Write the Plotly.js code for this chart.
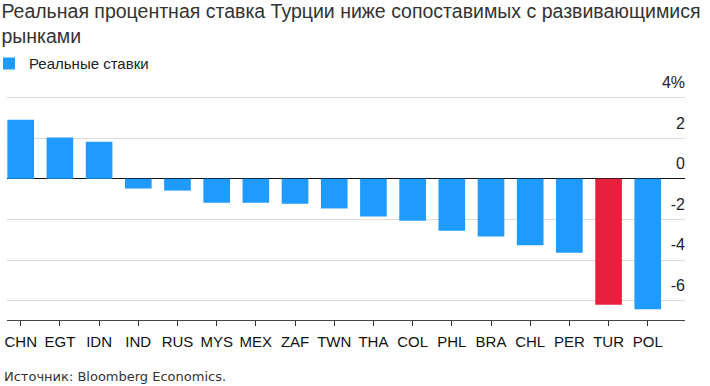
<!DOCTYPE html>
<html>
<head>
<meta charset="utf-8">
<script src="https://cdn.plot.ly/plotly-3.0.1.min.js"></script>
<style>
  html, body { margin: 0; padding: 0; background: #fff; }
  #chart { width: 710px; height: 386px; }
</style>
</head>
<body>
<div id="chart"></div>
<script>
const categories = ["CHN", "EGT", "IDN", "IND", "RUS", "MYS", "MEX", "ZAF", "TWN", "THA", "COL", "PHL", "BRA", "CHL", "PER", "TUR", "POL"];
const realRates = [2.9, 2.03, 1.82, -0.48, -0.58, -1.18, -1.18, -1.23, -1.46, -1.86, -2.07, -2.56, -2.84, -3.27, -3.64, -6.2, -6.42];
const highlight = "TUR";
const yTickVals = [-6, -4, -2, 0, 2, 4];
const yTickText = ["-6", "-4", "-2", "0", "2", "4%"];
const seriesName = "Реальные ставки";
const titleText = "Реальная процентная ставка Турции ниже сопоставимых с развивающимися<br>рынками";
const sourceText = "Источник: Bloomberg Economics.";

const BLUE = "#1f9bff";
const RED = "#e8203e";
const barColors = categories.map(c => c === highlight ? RED : BLUE);

const trace = {
  type: "bar",
  x: categories,
  y: realRates,
  name: seriesName,
  showlegend: true,
  marker: { color: barColors, line: { width: 0 } },
  hoverinfo: "x+y"
};

const layout = {
  width: 710,
  height: 386,
  paper_bgcolor: "#ffffff",
  plot_bgcolor: "#ffffff",
  font: { family: "Arial, 'Liberation Sans', sans-serif", color: "#222" },
  margin: { l: 7, r: 25, t: 65, b: 66, pad: 0, autoexpand: false },
  bargap: 0.32,
  title: {
    text: titleText,
    font: { size: 19.5, color: "#333", family: "Arial, 'Liberation Sans', sans-serif" },
    xref: "container", x: 0.002, xanchor: "left",
    yref: "container", y: 0.954, yanchor: "top",
    pad: { t: 0, l: 0 }
  },
  showlegend: true,
  legend: {
    orientation: "h",
    xref: "container", yref: "container",
    x: 0, xanchor: "left",
    y: 0.835, yanchor: "middle",
    indentation: -11,
    font: { size: 15, color: "#222" },
    bgcolor: "rgba(0,0,0,0)"
  },
  xaxis: {
    type: "category",
    range: [-0.35, 16.95],
    showgrid: false,
    showline: true,
    linecolor: "#444",
    linewidth: 1,
    ticks: "outside",
    ticklen: 5,
    tickwidth: 1,
    tickcolor: "#333",
    ticklabelstandoff: 3,
    tickfont: { size: 15, color: "#111" },
    zeroline: false,
    fixedrange: true
  },
  yaxis: {
    side: "right",
    range: [-6.95, 5.6],
    tickmode: "array",
    tickvals: yTickVals,
    ticktext: yTickText,
    ticklabelposition: "inside top",
    ticklabelshift: -4,
    ticklabelstandoff: -3,
    tickfont: { size: 16, color: "#222" },
    ticks: "",
    showgrid: true,
    gridcolor: "#dcdcdc",
    gridwidth: 1,
    zeroline: true,
    zerolinecolor: "#111",
    zerolinewidth: 1,
    showline: false,
    fixedrange: true
  },
  annotations: [
    {
      text: sourceText,
      xref: "paper", yref: "paper",
      x: -0.0074, xanchor: "left",
      y: -0.22, yanchor: "middle",
      showarrow: false,
      font: { family: "'DejaVu Sans', Arial, sans-serif", size: 13, color: "#333" }
    }
  ]
};

Plotly.newPlot("chart", [trace], layout, { displayModeBar: false, staticPlot: true });
</script>
</body>
</html>
